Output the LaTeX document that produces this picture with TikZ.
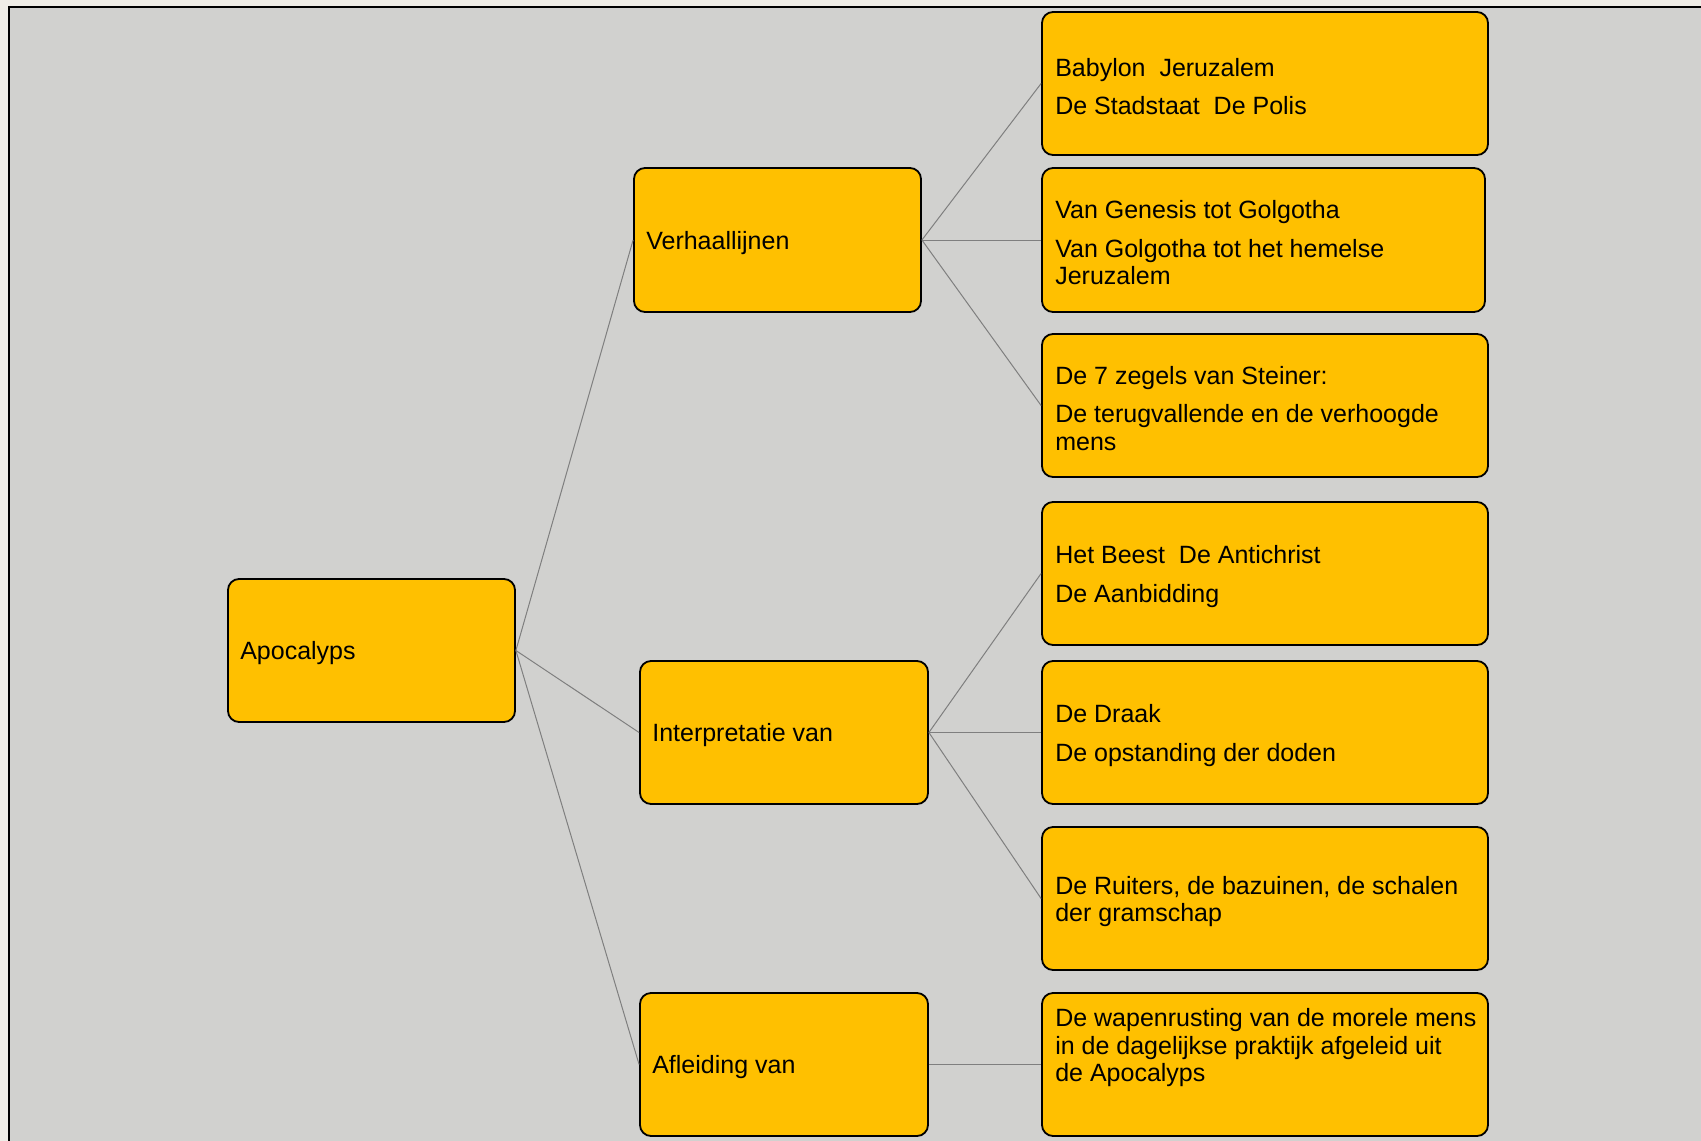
\documentclass[tikz,border=0pt]{standalone}
\usepackage{fontspec}
\setmainfont{Liberation Sans}
\definecolor{outerbg}{HTML}{EFEDE7}
\definecolor{panel}{HTML}{D1D1CF}
\definecolor{boxfill}{HTML}{FFC000}
\definecolor{linkgray}{HTML}{7F7F7F}
\begin{document}
\begin{tikzpicture}[x=1pt,y=-1pt,
  box/.style={draw=black, line width=1.8pt, fill=boxfill, rounded corners=11pt, inner sep=0pt},
  lbl/.style={anchor=west, align=left, inner sep=0pt, yshift=-3pt, font=\fontsize{25}{27.5}\selectfont, text=black},
  link/.style={draw=linkgray, line width=1pt}]
\useasboundingbox (0,0) rectangle (1701,1141);
\fill[outerbg] (0,0) rectangle (1701,1141);
\fill[panel] (9,7) rectangle (1701,1141);
\draw[black, line width=1.4pt] (9,1141) -- (9,7) -- (1701,7);

% left and middle boxes
\node[box, minimum width=287pt, minimum height=143pt] (apo) at (371.5,650.5) {};
\node[box, minimum width=287pt, minimum height=144pt] (verh) at (777.5,240) {};
\node[box, minimum width=288pt, minimum height=143pt] (interp) at (784,732.5) {};
\node[box, minimum width=288pt, minimum height=143pt] (afl) at (784,1064.5) {};

% right boxes
\node[box, minimum width=446pt, minimum height=143pt] (r1) at (1265,83.5) {};
\node[box, minimum width=443pt, minimum height=144pt] (r2) at (1263.5,240) {};
\node[box, minimum width=446pt, minimum height=143pt] (r3) at (1265,405.5) {};
\node[box, minimum width=446pt, minimum height=143pt] (r4) at (1265,573.5) {};
\node[box, minimum width=446pt, minimum height=143pt] (r5) at (1265,732.5) {};
\node[box, minimum width=446pt, minimum height=143pt] (r6) at (1265,898.5) {};
\node[box, minimum width=446pt, minimum height=143pt] (r7) at (1265,1064.5) {};

% connectors
\draw[link] (apo.east) -- (verh.west);
\draw[link] (apo.east) -- (interp.west);
\draw[link] (apo.east) -- (afl.west);
\draw[link] (verh.east) -- (r1.west);
\draw[link] (verh.east) -- (r2.west);
\draw[link] (verh.east) -- (r3.west);
\draw[link] (interp.east) -- (r4.west);
\draw[link] (interp.east) -- (r5.west);
\draw[link] (interp.east) -- (r6.west);
\draw[link] (afl.east) -- (r7.west);

% labels
\node[lbl] (tapo) at ([xshift=13pt]apo.west) {Apocalyps};
\node[lbl] (tverh) at ([xshift=13pt]verh.west) {Verhaallijnen};
\node[lbl] (tinterp) at ([xshift=13pt]interp.west) {Interpretatie van};
\node[lbl] (tafl) at ([xshift=13pt]afl.west) {Afleiding van};

\node[lbl] (t1) at ([xshift=14pt]r1.west) {Babylon\ \ Jeruzalem\\[11pt]De Stadstaat\ \ De Polis};
\node[lbl] (t2) at ([xshift=14pt]r2.west) {Van Genesis tot Golgotha\\[11pt]Van Golgotha tot het hemelse\\Jeruzalem};
\node[lbl] (t3) at ([xshift=14pt]r3.west) {De 7 zegels van Steiner:\\[11pt]De terugvallende en de verhoogde\\mens};
\node[lbl] (t4) at ([xshift=14pt]r4.west) {Het Beest\ \ De Antichrist\\[11pt]De Aanbidding};
\node[lbl] (t5) at ([xshift=14pt]r5.west) {De Draak\\[11pt]De opstanding der doden};
\node[lbl] (t6) at ([xshift=14pt]r6.west) {De Ruiters, de bazuinen, de schalen\\der gramschap};
\node[lbl] (t7) at ([xshift=14pt,yshift=19.5pt]r7.west) {De wapenrusting van de morele mens\\in de dagelijkse praktijk afgeleid uit\\de Apocalyps};
\end{tikzpicture}
\end{document}
